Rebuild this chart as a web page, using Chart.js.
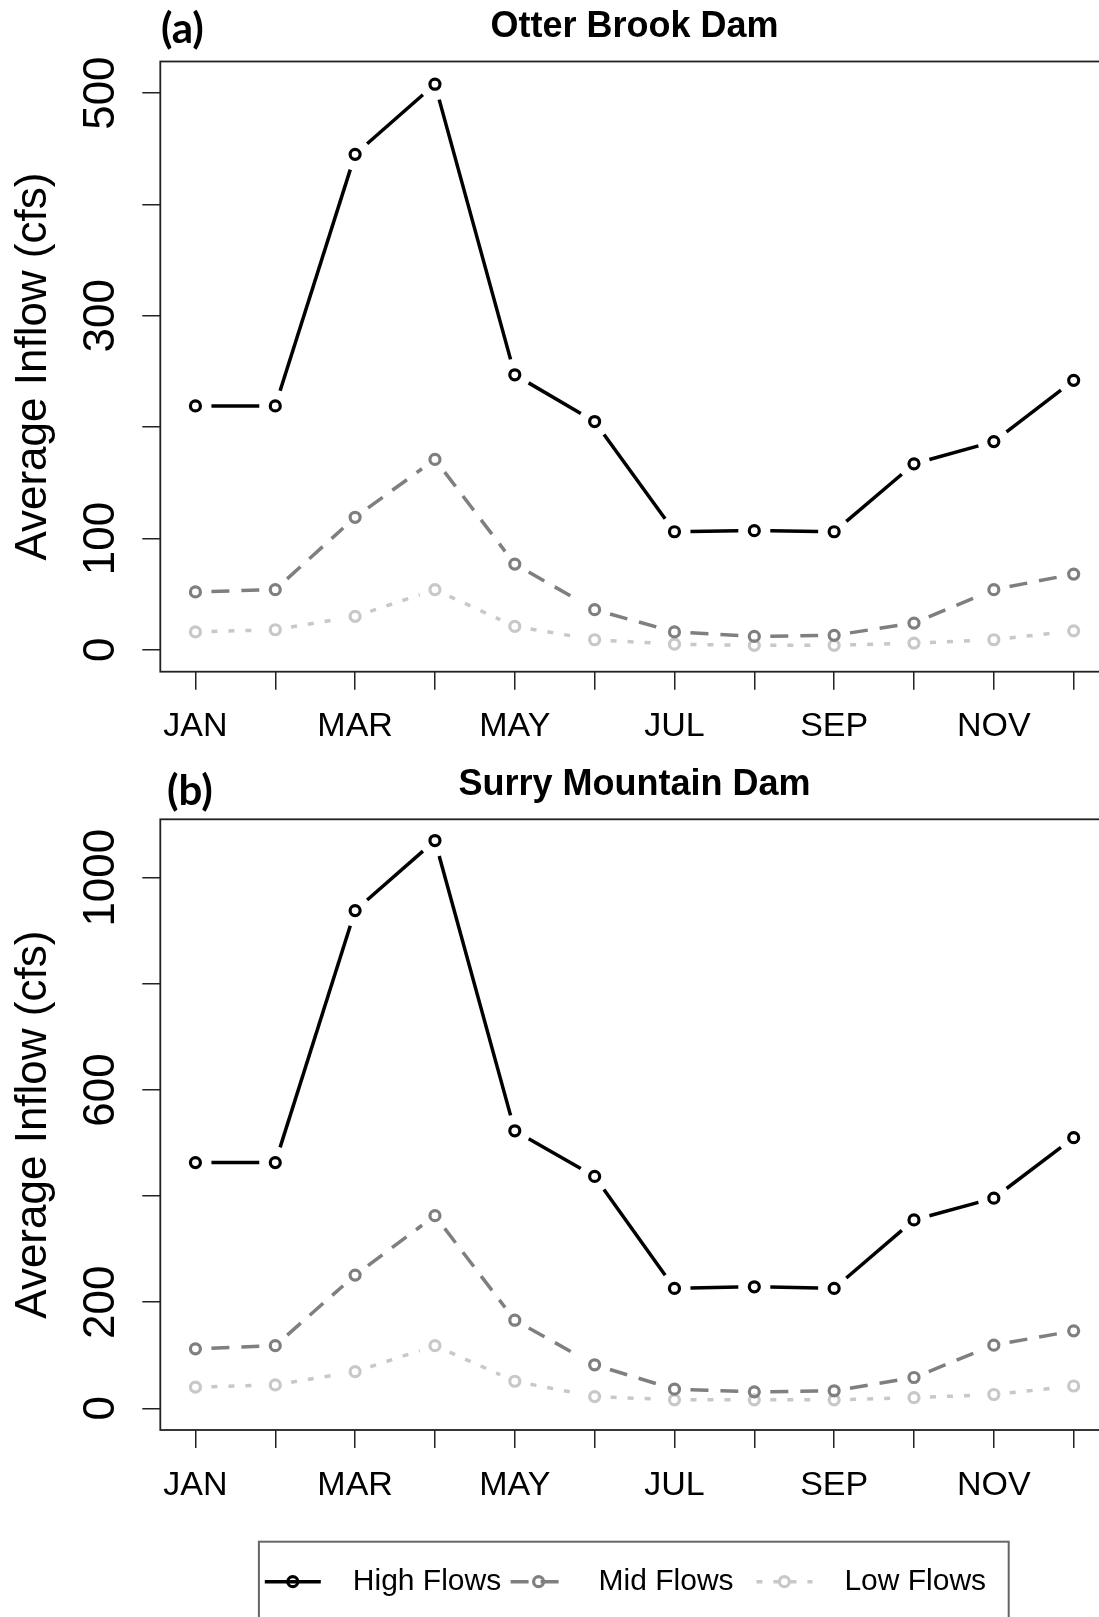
<!DOCTYPE html>
<html>
<head>
<meta charset="utf-8">
<script src="https://cdn.jsdelivr.net/npm/chart.js@4.4.0/dist/chart.umd.min.js"></script>
<style>
  html, body { margin: 0; padding: 0; background: #fff; }
  body { width: 1099px; height: 1617px; overflow: hidden; position: relative; }
  canvas { position: absolute; left: 0; }
  #c1 { top: 0; }
  #c2 { top: 760px; }
  .tag { position: absolute; font-family: Lato, "Open Sans", sans-serif; font-weight: 700;
         font-size: 42px; line-height: 42px; color: #000; }
</style>
</head>
<body>
<canvas id="c1" width="1117" height="760"></canvas>
<canvas id="c2" width="1117" height="857"></canvas>
<div class="tag" style="left:161px;top:6px">(a)</div>
<div class="tag" style="left:167px;top:768px">(b)</div>
<script>
const MONTHS = ['JAN', 'FEB', 'MAR', 'APR', 'MAY', 'JUN', 'JUL', 'AUG', 'SEP', 'OCT', 'NOV', 'DEC'];
const MONTH_NUM = MONTHS.map((m, i) => i + 1);
const X_LABELS = MONTHS.map((m, i) => (i % 2 === 0 ? m : ''));
const SERIES_NAMES = ['High Flows', 'Mid Flows', 'Low Flows'];

// (a) Otter Brook Dam
const OTTER_HIGH = [219, 219, 445, 508, 247, 205, 106, 107, 106, 167, 187, 242];
const OTTER_MID = [52, 54, 119, 171, 77, 36, 16, 12, 13, 24, 54, 68];
const OTTER_LOW = [16, 18, 30, 54, 21, 9, 5, 4, 4, 6, 9, 17];
const OTTER_Y_TICKS = [0, 100, 200, 300, 400, 500];
const OTTER_Y_LABELS = ['0', '100', '', '300', '', '500'];

// (b) Surry Mountain Dam
const SURRY_HIGH = [463, 463, 938, 1070, 523, 437, 226, 229, 226, 355, 396, 510];
const SURRY_MID = [112, 118, 251, 363, 166, 82, 36, 31, 33, 58, 119, 146];
const SURRY_LOW = [40, 44, 69, 118, 51, 22, 16, 16, 16, 20, 26, 42];
const SURRY_Y_TICKS = [0, 200, 400, 600, 800, 1000];
const SURRY_Y_LABELS = ['0', '200', '', '600', '', '1000'];

const FONT = '"Liberation Sans", Arial, sans-serif';
const AXIS = '#222';
const STYLES = [
  { color: '#000000', pattern: null },
  { color: '#7f7f7f', pattern: [18, 12] },
  { color: '#c8c8c8', pattern: [6, 11] },
];
const GAP = 16; // R type="b": line stops short of each point

// dash array that leaves a gap at both ends of a segment
function gapDash(len, pattern, idx) {
  const end = len - GAP;
  if (end <= GAP) return [0, len + 1 + idx * 0.001];
  const out = [0, GAP];
  if (!pattern) {
    out.push(end - GAP, len + idx * 0.001);
    return out;
  }
  let pos = GAP, k = 0;
  while (pos < end - 0.01) {
    const seg = Math.min(pattern[k % 2], end - pos);
    out.push(seg);
    pos += seg;
    k++;
  }
  if (out.length % 2 === 1) out.push(len + idx * 0.001);
  else out.push(0, len + idx * 0.001);
  return out;
}

function yTickPad(labels) {
  const c = document.createElement('canvas').getContext('2d');
  c.font = '44px ' + FONT;
  const w = Math.max(...labels.map((l) => c.measureText(l).width));
  return 160.3 - 18 - 102 - w / 2;
}

const framePlugin = {
  id: 'frame',
  afterDatasetsDraw(chart) {
    const { ctx, chartArea: a } = chart;
    ctx.save();
    ctx.strokeStyle = AXIS;
    ctx.lineWidth = 1.8;
    ctx.setLineDash([]);
    ctx.strokeRect(a.left, a.top, a.right - a.left, a.bottom - a.top);
    ctx.restore();
  },
};

const legendPlugin = {
  id: 'rlegend',
  afterDraw(chart) {
    const ctx = chart.ctx;
    const y = 821.7;
    ctx.save();
    ctx.strokeStyle = '#666';
    ctx.lineWidth = 2;
    ctx.strokeRect(258.9, 781.7, 749.8, 200);
    chart.data.datasets.forEach((ds, i) => {
      const x0 = 264.8 + i * 245.8;
      ctx.strokeStyle = ds.borderColor;
      ctx.lineWidth = ds.borderWidth;
      ctx.setLineDash(STYLES[i].pattern || []);
      ctx.beginPath();
      ctx.moveTo(x0, y);
      ctx.lineTo(x0 + 56, y);
      ctx.stroke();
      ctx.setLineDash([]);
      ctx.lineWidth = ds.pointBorderWidth;
      ctx.beginPath();
      ctx.arc(x0 + 28, y, ds.pointRadius, 0, Math.PI * 2);
      ctx.stroke();
      ctx.fillStyle = '#000';
      ctx.font = '30px ' + FONT;
      ctx.textBaseline = 'middle';
      ctx.textAlign = 'left';
      ctx.fillText(ds.label, x0 + 88, y);
    });
    ctx.restore();
  },
};

function makeDatasets(series) {
  return series.map((data, i) => ({
    label: SERIES_NAMES[i],
    data: data,
    borderColor: STYLES[i].color,
    borderWidth: 3.5,
    borderCapStyle: 'butt',
    tension: 0,
    fill: false,
    pointRadius: 5,
    pointBorderWidth: 3.2,
    pointBorderColor: STYLES[i].color,
    pointBackgroundColor: 'rgba(0,0,0,0)',
    segment: {
      borderDash: (c) =>
        gapDash(Math.hypot(c.p1.x - c.p0.x, c.p1.y - c.p0.y), STYLES[i].pattern, c.p0DataIndex),
    },
  }));
}

function makeChart(id, cfg) {
  const gridOpts = { drawOnChartArea: false, drawTicks: true, tickLength: 18, color: AXIS, lineWidth: 1.5 };
  return new Chart(document.getElementById(id), {
    type: 'line',
    data: { labels: MONTH_NUM, datasets: makeDatasets(cfg.series) },
    plugins: cfg.plugins,
    options: {
      responsive: false,
      animation: false,
      events: [],
      layout: { padding: { left: 0, right: 2.1, top: 0, bottom: cfg.padBottom } },
      plugins: {
        legend: { display: false },
        tooltip: { enabled: false },
        title: {
          display: true,
          text: cfg.title,
          fullSize: false,
          color: '#000',
          font: { family: FONT, size: 36, weight: 'bold', lineHeight: 1.2 },
          padding: { top: cfg.titleTop, bottom: cfg.titleBottom },
        },
      },
      scales: {
        x: {
          type: 'linear',
          bounds: 'data',
          min: 0.56,
          max: 12.44,
          afterBuildTicks: (s) => { s.ticks = MONTH_NUM.map((v) => ({ value: v })); },
          afterFit: (s) => { s.height = cfg.xHeight; },
          grid: gridOpts,
          border: { display: false },
          ticks: {
            autoSkip: false, minRotation: 0, maxRotation: 0, padding: 17, color: '#000',
            font: { family: FONT, size: 34, lineHeight: 1.2 },
            callback: (v, i) => X_LABELS[i],
          },
        },
        y: {
          type: 'linear',
          bounds: 'data',
          min: cfg.yMin,
          max: cfg.yMax,
          afterBuildTicks: (s) => { s.ticks = cfg.yTicks.map((v) => ({ value: v })); },
          afterFit: (s) => { s.width = 160.3; },
          grid: gridOpts,
          border: { display: false },
          ticks: {
            minRotation: 90, maxRotation: 90, crossAlign: 'center', padding: yTickPad(cfg.yLabels),
            color: '#000', font: { family: FONT, size: 44, lineHeight: 1.2 },
            callback: (v, i) => cfg.yLabels[i],
          },
          title: {
            display: true, text: 'Average Inflow (cfs)', color: '#000',
            font: { family: FONT, size: 44, lineHeight: 1.2 },
            padding: { top: 7, bottom: 0 },
          },
        },
      },
    },
  });
}

makeChart('c1', {
  title: 'Otter Brook Dam',
  series: [OTTER_HIGH, OTTER_MID, OTTER_LOW],
  yMin: -19.7, yMax: 528.4,
  yTicks: OTTER_Y_TICKS, yLabels: OTTER_Y_LABELS,
  titleTop: 5.6, titleBottom: 12.7,
  xHeight: 88.3, padBottom: 0,
  plugins: [framePlugin],
});

makeChart('c2', {
  title: 'Surry Mountain Dam',
  series: [SURRY_HIGH, SURRY_MID, SURRY_LOW],
  yMin: -40.9, yMax: 1110,
  yTicks: SURRY_Y_TICKS, yLabels: SURRY_Y_LABELS,
  titleTop: 3.4, titleBottom: 12.7,
  xHeight: 80, padBottom: 107,
  plugins: [framePlugin, legendPlugin],
});
</script>
</body>
</html>
